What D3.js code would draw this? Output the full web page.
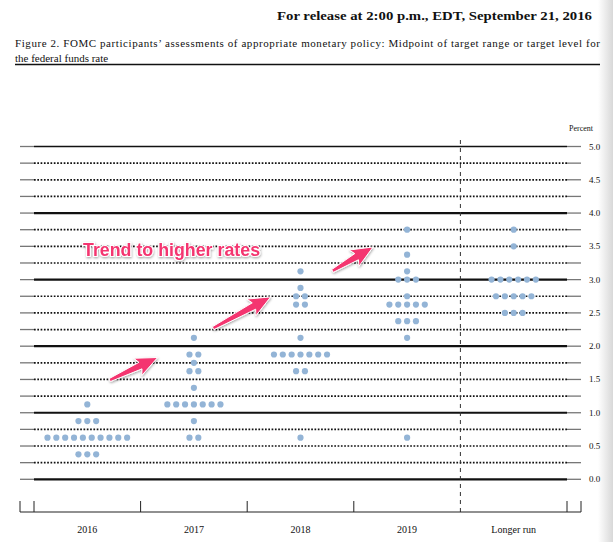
<!DOCTYPE html>
<html>
<head>
<meta charset="utf-8">
<script src="https://cdn.jsdelivr.net/npm/d3@7"></script>
<style>
  body { margin: 0; background: #fff; }
  text { font-family: "Liberation Serif", "DejaVu Serif", serif; fill: #111; }
</style>
</head>
<body>
<div id="graph"></div>
<script>
// ---- data ----
var categories = ["2016", "2017", "2018", "2019", "Longer run"];
// [rate, number of participants]
var dots2016 = [[0.375, 3], [0.625, 10], [0.875, 3], [1.125, 1]];
var dots2017 = [[0.625, 2], [0.875, 1], [1.125, 7], [1.375, 1], [1.625, 2], [1.75, 1], [1.875, 2], [2.125, 1]];
var dots2018 = [[0.625, 1], [1.625, 2], [1.875, 7], [2.125, 1], [2.625, 2], [2.75, 2], [2.875, 1], [3.125, 1]];
var dots2019 = [[0.625, 1], [2.125, 1], [2.375, 3], [2.625, 5], [2.75, 1], [3.0, 3], [3.125, 1], [3.375, 1], [3.75, 1]];
var dotsLonger = [[2.5, 3], [2.75, 5], [3.0, 6], [3.5, 1], [3.75, 1]];
var seriesDots = [dots2016, dots2017, dots2018, dots2019, dotsLonger];

var gridValues = d3.range(0, 5.001, 0.25);
var tickLabels = ["0.0", "0.5", "1.0", "1.5", "2.0", "2.5", "3.0", "3.5", "4.0", "4.5", "5.0"];

// annotation arrows, x in column units (0..5), y in percent
var arrows = [
  { x0: 0.71, y0: 1.49, x1: 1.16, y1: 1.83 },
  { x0: 1.68, y0: 2.27, x1: 2.22, y1: 2.74 },
  { x0: 2.80, y0: 3.13, x1: 3.18, y1: 3.49 }
];

var W = 613, H = 542;
var svg = d3.select("#graph").append("svg")
    .attr("width", W).attr("height", H);

var defs = svg.append("defs");
var grad = defs.append("linearGradient").attr("id", "edge").attr("x1", 0).attr("x2", 1);
grad.append("stop").attr("offset", "0%").attr("stop-color", "#fff");
grad.append("stop").attr("offset", "100%").attr("stop-color", "#d8d8d8");
var shadow = defs.append("filter").attr("id", "shadow")
    .attr("x", "-20%").attr("y", "-20%").attr("width", "140%").attr("height", "140%");
shadow.append("feDropShadow").attr("dx", 0.5).attr("dy", 1.2)
    .attr("stdDeviation", 1).attr("flood-color", "#000").attr("flood-opacity", 0.35);

svg.append("rect").attr("x", 598).attr("y", 0).attr("width", 15).attr("height", H)
    .attr("fill", "url(#edge)");

// header
svg.append("text").attr("x", 592).attr("y", 20)
    .attr("text-anchor", "end").attr("font-weight", "bold").attr("font-size", 13.5)
    .attr("textLength", 315).attr("lengthAdjust", "spacingAndGlyphs")
    .text("For release at 2:00 p.m., EDT, September 21, 2016");
svg.append("text").attr("x", 15).attr("y", 47).attr("font-size", 11)
    .attr("textLength", 585).attr("lengthAdjust", "spacing")
    .text("Figure 2. FOMC participants\u2019 assessments of appropriate monetary policy: Midpoint of target range or target level for");
svg.append("text").attr("x", 15).attr("y", 62).attr("font-size", 11)
    .text("the federal funds rate");
svg.append("line").attr("x1", 15).attr("x2", 600).attr("y1", 64.5).attr("y2", 64.5)
    .attr("stroke", "#111").attr("stroke-width", 1.3);

// scales
var left = 20, inL = 34, inR = 567, right = 581;
var x = d3.scaleBand().domain(categories).range([inL, inR]);
var xc = d3.scaleLinear().domain([0, 5]).range([inL, inR]);
var y = d3.scaleLinear().domain([0, 5]).range([479.3, 146.5]);

svg.append("text").attr("x", 593).attr("y", 131).attr("text-anchor", "end")
    .attr("font-size", 8).text("Percent");

// horizontal grid
var grid = svg.append("g");
gridValues.forEach(function(v) {
  var yy = y(v), major = Math.abs(v - Math.round(v)) < 1e-6;
  grid.append("line").attr("x1", left).attr("x2", inL).attr("y1", yy).attr("y2", yy)
      .attr("stroke", "#777").attr("stroke-width", 1.3);
  grid.append("line").attr("x1", inR).attr("x2", right).attr("y1", yy).attr("y2", yy)
      .attr("stroke", "#777").attr("stroke-width", 1.3);
  grid.append("line").attr("x1", inL).attr("x2", inR).attr("y1", yy).attr("y2", yy)
      .attr("stroke", "#111")
      .attr("stroke-width", major ? (v === 5 ? 1.3 : 2.2) : 1.7)
      .attr("stroke-dasharray", major ? null : "1.7,1.6");
});

// right-hand tick labels
svg.append("g").selectAll("text").data(tickLabels).enter().append("text")
    .attr("x", 589).attr("y", function(d) { return y(+d) + 3; })
    .attr("font-size", 9).text(function(d) { return d; });

// longer-run divider
svg.append("line").attr("x1", x("Longer run")).attr("x2", x("Longer run"))
    .attr("y1", 140).attr("y2", 512)
    .attr("stroke", "#333").attr("stroke-width", 1).attr("stroke-dasharray", "4,4");

// bottom axis
var baseY = 512;
svg.append("line").attr("x1", left).attr("x2", right).attr("y1", baseY).attr("y2", baseY)
    .attr("stroke", "#222").attr("stroke-width", 1.2);
var tickXs = [left, right].concat(categories.map(function(c) { return x(c); })).concat([inR]);
svg.append("g").selectAll("line").data(tickXs).enter().append("line")
    .filter(function(d) { return Math.abs(d - x("Longer run")) > 1; })
    .attr("x1", function(d) { return d; }).attr("x2", function(d) { return d; })
    .attr("y1", 501).attr("y2", baseY)
    .attr("stroke", "#222").attr("stroke-width", 1);
svg.append("g").selectAll("text").data(categories).enter().append("text")
    .attr("x", function(d) { return x(d) + x.bandwidth() / 2; })
    .attr("y", 533).attr("text-anchor", "middle").attr("font-size", 10)
    .text(function(d) { return d; });

// dots
var spacing = 8.85;
var points = [];
seriesDots.forEach(function(list, i) {
  list.forEach(function(d) {
    for (var k = 0; k < d[1]; k++) {
      points.push({ cat: categories[i], rate: d[0], off: (k - (d[1] - 1) / 2) * spacing });
    }
  });
});
svg.append("g").selectAll("circle").data(points).enter().append("circle")
    .attr("cx", function(d) { return x(d.cat) + x.bandwidth() / 2 + d.off; })
    .attr("cy", function(d) { return y(d.rate); })
    .attr("r", 3.1)
    .attr("fill", "#93b4d6");

// annotation
var pink = "#f4346f";
function arrowPath(a) {
  var X0 = xc(a.x0), Y0 = y(a.y0), X1 = xc(a.x1), Y1 = y(a.y1);
  var dx = X1 - X0, dy = Y1 - Y0, L = Math.sqrt(dx * dx + dy * dy);
  var ux = dx / L, uy = dy / L, nx = -uy, ny = ux;
  var hl = 19, bx = X1 - ux * hl, by = Y1 - uy * hl;
  var pts = [
    [X0 + nx * 1.6, Y0 + ny * 1.6], [bx + nx * 3.6, by + ny * 3.6], [bx - ux * 3 + nx * 9.5, by - uy * 3 + ny * 9.5],
    [X1, Y1],
    [bx - ux * 3 - nx * 9.5, by - uy * 3 - ny * 9.5], [bx - nx * 3.6, by - ny * 3.6], [X0 - nx * 1.6, Y0 - ny * 1.6]
  ];
  return d3.line()(pts) + "Z";
}
var ann = svg.append("g").attr("filter", "url(#shadow)");
ann.selectAll("path").data(arrows).enter().append("path")
    .attr("d", arrowPath).attr("fill", pink)
    .attr("stroke", "#fff").attr("stroke-width", 1).attr("stroke-linejoin", "round");
ann.append("text").attr("x", xc(0.46)).attr("y", y(3.36))
    .style("font-family", "'Liberation Sans', Arial, sans-serif")
    .style("fill", pink).attr("font-weight", "bold").attr("font-size", 17.5)
    .attr("textLength", 177).attr("lengthAdjust", "spacingAndGlyphs")
    .attr("stroke", "#fff").attr("stroke-width", 2.2).attr("paint-order", "stroke")
    .text("Trend to higher rates");
</script>
</body>
</html>
